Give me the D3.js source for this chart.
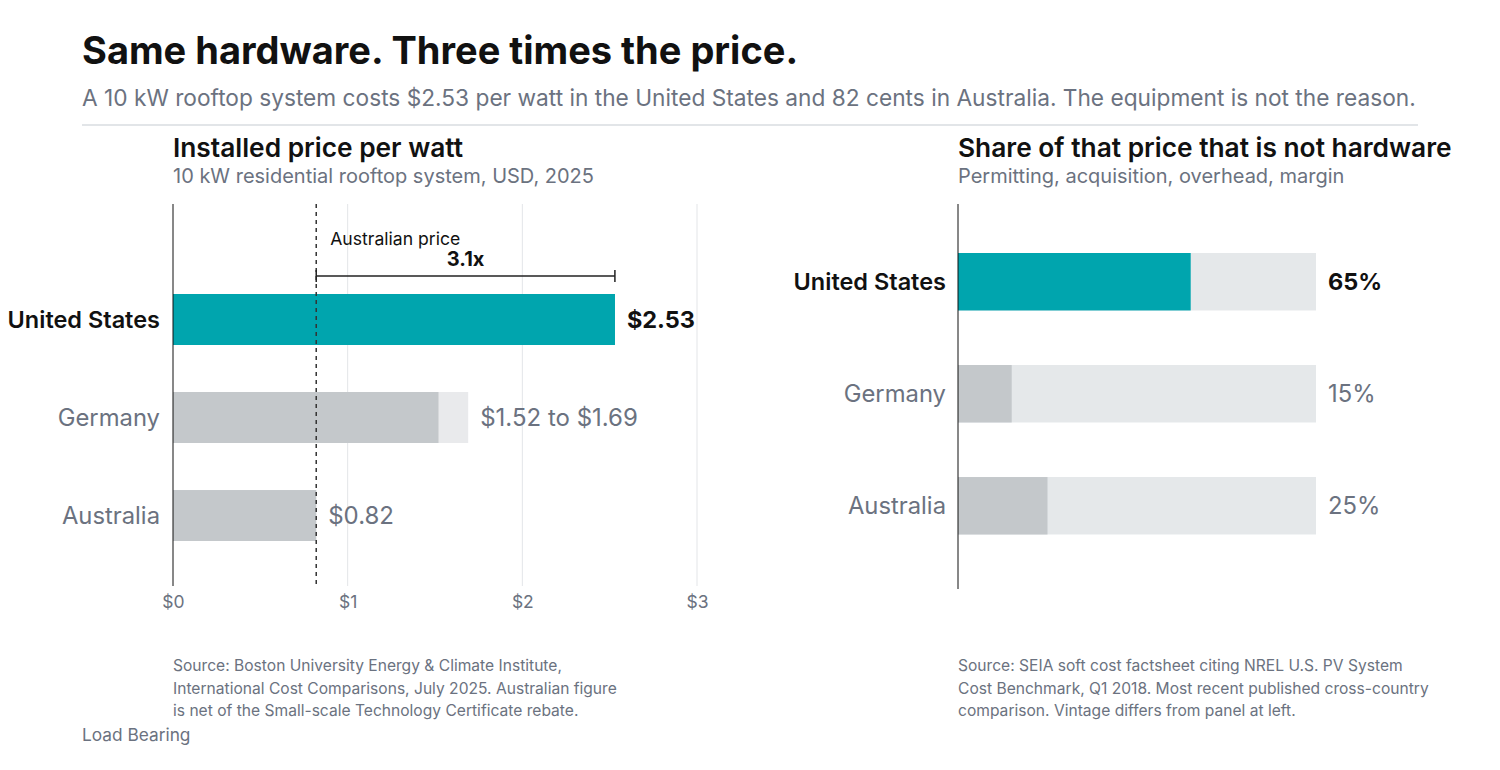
<!DOCTYPE html>
<html>
<head>
<meta charset="utf-8">
<script src="https://cdn.jsdelivr.net/npm/d3@7"></script>
<style>
  body { margin: 0; background: #fff; }
  svg { font-family: Inter, "Noto Sans", sans-serif; display: block; }
</style>
</head>
<body>
<svg id="chart"></svg>
<script>
// data
var countries = ['United States', 'Germany', 'Australia'];
var priceLow = [2.53, 1.52, 0.82];
var priceHigh = [2.53, 1.69, 0.82];
var priceLabels = ['$2.53', '$1.52 to $1.69', '$0.82'];
var priceTicks = [0, 1, 2, 3];
var softShare = [65, 15, 25];
var australianPrice = 0.82;
var usPrice = 2.53;
var multipleLabel = '3.1x';
var leftSource = [
	'Source: Boston University Energy & Climate Institute,',
	'International Cost Comparisons, July 2025. Australian figure',
	'is net of the Small-scale Technology Certificate rebate.'
];
var rightSource = [
	'Source: SEIA soft cost factsheet citing NREL U.S. PV System',
	'Cost Benchmark, Q1 2018. Most recent published cross-country',
	'comparison. Vintage differs from panel at left.'
];

var dark = '#111111';
var grey = '#6b7280';
var teal = '#00a5ae';
var barGrey = '#c4c8cb';
var barLight = '#e9eaec';
var trackLight = '#e5e8ea';

var svg = d3.select('#chart').attr('width', 1500).attr('height', 770);

// header
svg.append('text').attr('x', 82).attr('y', 64)
	.attr('font-size', 38).attr('font-weight', 700).attr('fill', dark)
	.text('Same hardware. Three times the price.');
svg.append('text').attr('x', 82).attr('y', 106)
	.attr('font-size', 22.7).attr('fill', grey)
	.text('A 10 kW rooftop system costs $2.53 per watt in the United States and 82 cents in Australia. The equipment is not the reason.');
svg.append('line').attr('x1', 82).attr('x2', 1418).attr('y1', 125).attr('y2', 125)
	.attr('stroke', '#d9dce0').attr('stroke-width', 1.5);

function panelTitle(x, title, sub) {
	svg.append('text').attr('x', x).attr('y', 157)
		.attr('font-size', 26.3).attr('font-weight', 600).attr('fill', dark).text(title);
	svg.append('text').attr('x', x).attr('y', 183)
		.attr('font-size', 20).attr('fill', grey).text(sub);
}

function catLabels(g, y, x) {
	g.selectAll('text.cat').data(countries).enter().append('text')
		.attr('class', 'cat')
		.attr('x', x)
		.attr('y', function(d) { return y(d) + y.bandwidth() / 2; })
		.attr('dy', '0.35em')
		.attr('text-anchor', 'end')
		.attr('font-size', function(d, i) { return i === 0 ? 23.5 : 23.8; })
		.attr('font-weight', function(d, i) { return i === 0 ? 600 : 400; })
		.attr('fill', function(d, i) { return i === 0 ? dark : grey; })
		.text(function(d) { return d; });
}

// left panel: installed price
panelTitle(173, 'Installed price per watt', '10 kW residential rooftop system, USD, 2025');

var x1 = d3.scaleLinear().domain([0, 3]).range([173, 697]);
var y1 = d3.scaleBand().domain(countries).range([245, 590]).paddingInner(0.48).paddingOuter(0.5);
var top1 = 204, bottom1 = 586;

var left = svg.append('g');

left.selectAll('line.grid').data(priceTicks.slice(1)).enter().append('line')
	.attr('x1', function(d) { return x1(d); }).attr('x2', function(d) { return x1(d); })
	.attr('y1', top1).attr('y2', bottom1)
	.attr('stroke', '#e3e5e8').attr('stroke-width', 1);

var xAxis = d3.axisBottom(x1).tickValues(priceTicks).tickSize(0).tickPadding(0)
	.tickFormat(function(d) { return '$' + d; });
var ax = left.append('g').attr('transform', 'translate(0,' + (bottom1 + 10) + ')').call(xAxis);
ax.select('.domain').remove();
ax.selectAll('text').attr('font-size', 17.5).attr('fill', grey).attr('font-family', 'Inter, sans-serif');

// range part (light) then low part
left.selectAll('rect.high').data(countries).enter().append('rect')
	.attr('x', x1(0))
	.attr('y', function(d) { return y1(d); })
	.attr('width', function(d, i) { return x1(priceHigh[i]) - x1(0); })
	.attr('height', y1.bandwidth())
	.attr('fill', function(d, i) { return i === 0 ? teal : barLight; });
left.selectAll('rect.low').data(countries).enter().append('rect')
	.attr('x', x1(0))
	.attr('y', function(d) { return y1(d); })
	.attr('width', function(d, i) { return x1(priceLow[i]) - x1(0); })
	.attr('height', y1.bandwidth())
	.attr('fill', function(d, i) { return i === 0 ? teal : barGrey; });

left.selectAll('text.val').data(countries).enter().append('text')
	.attr('x', function(d, i) { return x1(priceHigh[i]) + 12; })
	.attr('y', function(d) { return y1(d) + y1.bandwidth() / 2; })
	.attr('dy', '0.35em')
	.attr('font-size', function(d, i) { return i === 0 ? 23.5 : 24; })
	.attr('font-weight', function(d, i) { return i === 0 ? 700 : 400; })
	.attr('fill', function(d, i) { return i === 0 ? dark : grey; })
	.text(function(d, i) { return priceLabels[i]; });

left.append('line').attr('x1', x1(0)).attr('x2', x1(0)).attr('y1', top1).attr('y2', bottom1)
	.attr('stroke', dark).attr('stroke-width', 1);

left.append('line')
	.attr('x1', x1(australianPrice)).attr('x2', x1(australianPrice))
	.attr('y1', top1).attr('y2', bottom1)
	.attr('stroke', '#333').attr('stroke-width', 1.5).attr('stroke-dasharray', '4,4');

// multiple bracket
var by = 276;
left.append('line').attr('x1', x1(australianPrice)).attr('x2', x1(usPrice))
	.attr('y1', by).attr('y2', by).attr('stroke', '#222').attr('stroke-width', 1.5);
[australianPrice, usPrice].forEach(function(v) {
	left.append('line').attr('x1', x1(v)).attr('x2', x1(v))
		.attr('y1', by - 6).attr('y2', by + 6).attr('stroke', '#222').attr('stroke-width', 1.5);
});
left.append('text').attr('x', x1(australianPrice) + 14).attr('y', 245)
	.attr('font-size', 17.6).attr('fill', dark).text('Australian price');
left.append('text').attr('x', (x1(australianPrice) + x1(usPrice)) / 2).attr('y', 266)
	.attr('text-anchor', 'middle').attr('font-size', 20).attr('font-weight', 700).attr('fill', dark)
	.text(multipleLabel);

catLabels(left, y1, 160);

// right panel: soft cost share
panelTitle(958, 'Share of that price that is not hardware', 'Permitting, acquisition, overhead, margin');

var x2 = d3.scaleLinear().domain([0, 100]).range([958, 1316]);
var y2 = d3.scaleBand().domain(countries).range([204, 583.5]).paddingInner(0.487).paddingOuter(0.4375);
var right = svg.append('g');

right.selectAll('rect.track').data(countries).enter().append('rect')
	.attr('x', x2(0))
	.attr('y', function(d) { return y2(d); })
	.attr('width', x2(100) - x2(0))
	.attr('height', y2.bandwidth())
	.attr('fill', trackLight);
right.selectAll('rect.share').data(countries).enter().append('rect')
	.attr('x', x2(0))
	.attr('y', function(d) { return y2(d); })
	.attr('width', function(d, i) { return x2(softShare[i]) - x2(0); })
	.attr('height', y2.bandwidth())
	.attr('fill', function(d, i) { return i === 0 ? teal : barGrey; });

right.selectAll('text.val').data(countries).enter().append('text')
	.attr('x', x2(100) + 12)
	.attr('y', function(d) { return y2(d) + y2.bandwidth() / 2; })
	.attr('dy', '0.35em')
	.attr('font-size', function(d, i) { return i === 0 ? 23.5 : 23.8; })
	.attr('font-weight', function(d, i) { return i === 0 ? 700 : 400; })
	.attr('fill', function(d, i) { return i === 0 ? dark : grey; })
	.text(function(d, i) { return softShare[i] + '%'; });

right.append('line').attr('x1', x2(0)).attr('x2', x2(0)).attr('y1', 204).attr('y2', 589)
	.attr('stroke', dark).attr('stroke-width', 1);

catLabels(right, y2, 946);

// sources
function source(x, lines) {
	svg.append('g').selectAll('text').data(lines).enter().append('text')
		.attr('x', x)
		.attr('y', function(d, i) { return 671 + i * 22.5; })
		.attr('font-size', 15.6).attr('fill', grey)
		.text(function(d) { return d; });
}
source(173, leftSource);
source(958, rightSource);

svg.append('text').attr('x', 82).attr('y', 741)
	.attr('font-size', 17.3).attr('fill', grey).text('Load Bearing');
</script>
</body>
</html>
